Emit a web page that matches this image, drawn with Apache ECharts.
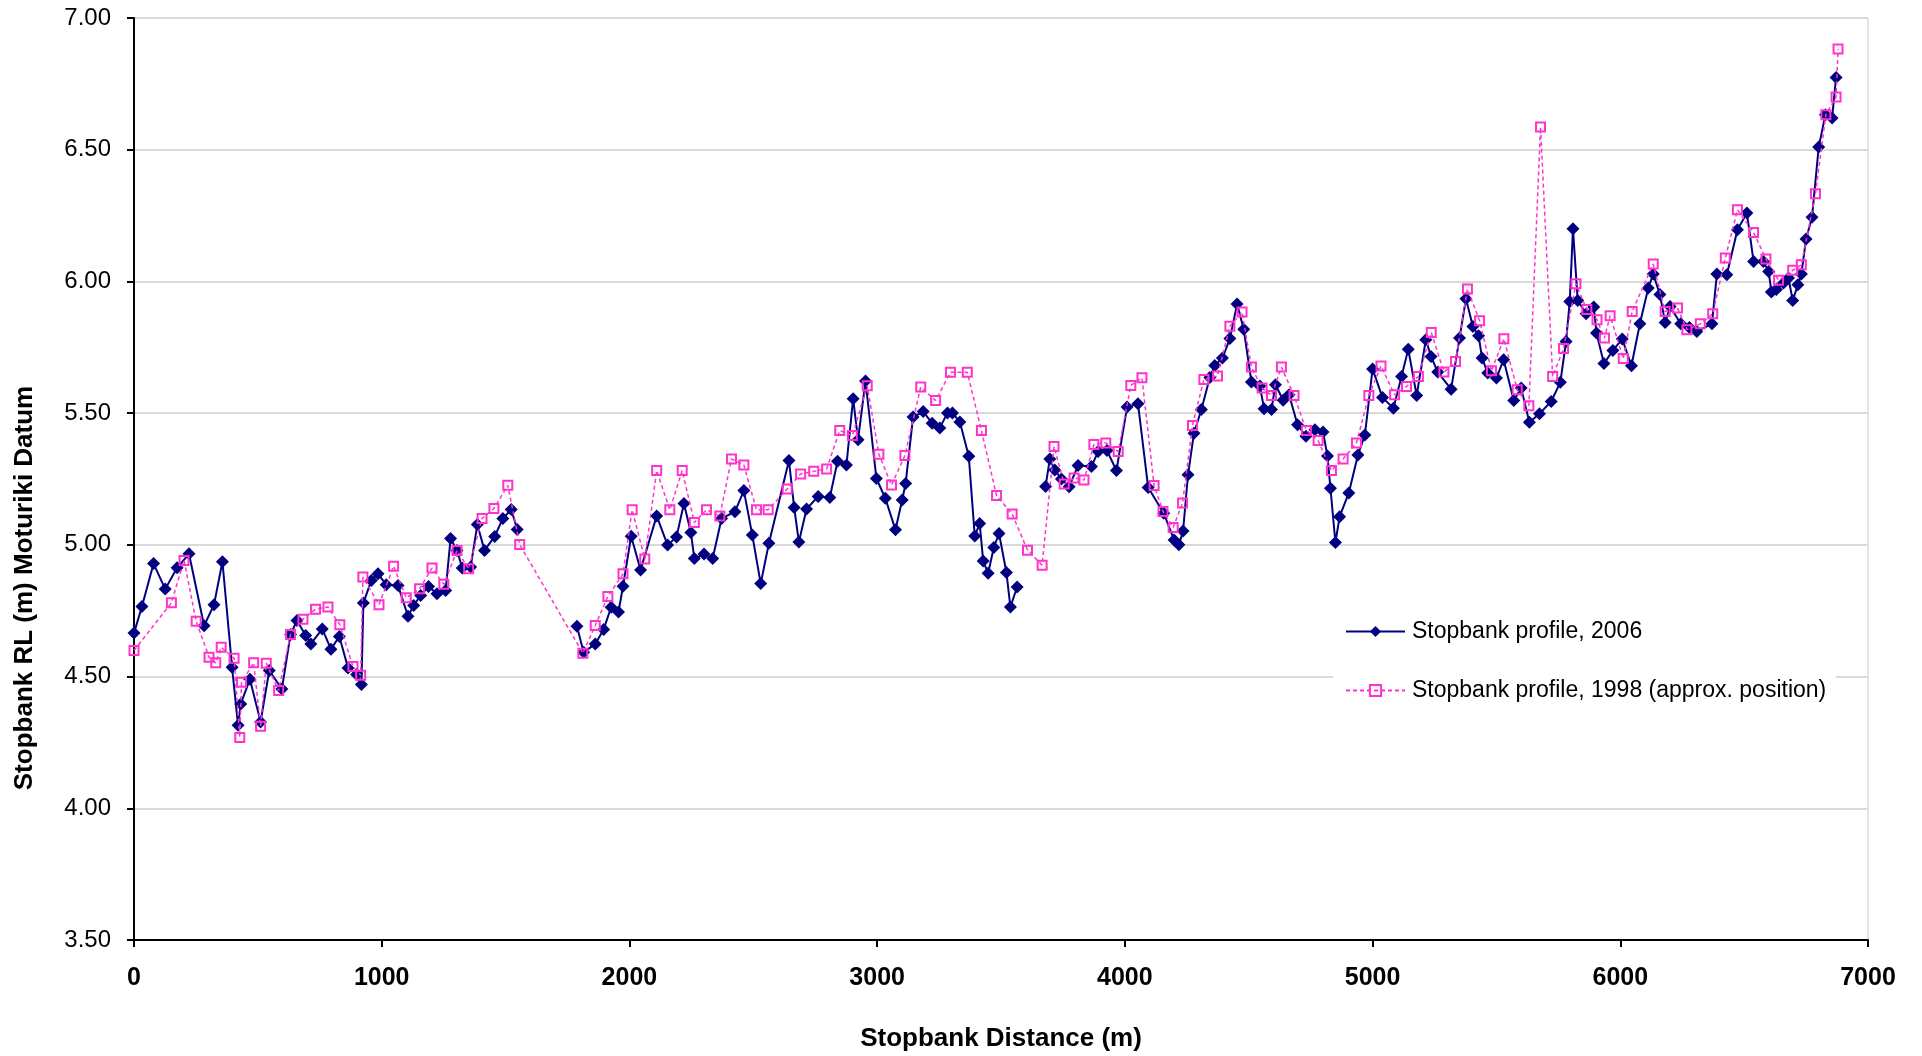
<!DOCTYPE html>
<html>
<head>
<meta charset="utf-8">
<title>Stopbank profile</title>
<script src="https://cdn.jsdelivr.net/npm/echarts@6/dist/echarts.min.js"></script>
<style>
  html, body { margin: 0; padding: 0; background: #ffffff; }
  #chart { width: 1922px; height: 1056px; }
</style>
</head>
<body>
<div id="chart"></div>
<script>
// Surveyed crest levels along the stopbank (distance in m, RL in m Moturiki Datum).
// null marks a stretch with no survey, so the line breaks there.
const distance2006 = [
  0, 32, 79, 126, 174, 222, 283, 323, 357, 396, 420, 431, 468, 511, 546, 597, 632, 658, 693, 714,
  760, 795, 829, 864, 899, 918, 926, 958, 985, 1018, 1066, 1106, 1129, 1157, 1189, 1223, 1258, 1278, 1304, 1325,
  1359, 1386, 1415, 1456, 1489, 1523, 1547, 1660, 1788, 1815, 1862, 1896, 1926, 1956, 1974, 2007, 2045, 2110, 2154, 2190,
  2220, 2248, 2262, 2301, 2336, 2372, 2426, 2462, 2496, 2530, 2563, 2644, 2665, 2684, 2715, 2762, 2809, 2840, 2876, 2903,
  2923, 2953, 2997, 3033, 3074, 3101, 3115, 3145, 3186, 3222, 3253, 3284, 3304, 3334, 3370, 3394, 3414, 3428, 3448, 3471,
  3492, 3522, 3538, 3565, 3620, 3680, 3697, 3717, 3744, 3775, 3811, 3865, 3892, 3928, 3966, 4009, 4053, 4094, 4157, 4199,
  4218, 4235, 4255, 4279, 4309, 4343, 4363, 4394, 4424, 4453, 4480, 4511, 4545, 4562, 4592, 4608, 4639, 4663, 4697, 4731,
  4767, 4800, 4818, 4830, 4850, 4867, 4904, 4941, 4969, 5000, 5040, 5084, 5117, 5144, 5178, 5215, 5236, 5263, 5317, 5351,
  5377, 5405, 5428, 5442, 5465, 5500, 5529, 5570, 5600, 5633, 5674, 5721, 5758, 5781, 5796, 5809, 5828, 5862, 5893, 5904,
  5934, 5970, 6008, 6045, 6079, 6113, 6133, 6160, 6181, 6201, 6244, 6279, 6309, 6370, 6390, 6430, 6473, 6511, 6538, 6578,
  6599, 6610, 6630, 6659, 6679, 6696, 6717, 6731, 6750, 6774, 6801, 6828, 6855, 6871
];
const level2006 = [
  4.665, 4.766, 4.929, 4.832, 4.913, 4.966, 4.693, 4.773, 4.936, 4.535, 4.315, 4.396, 4.49, 4.328, 4.523, 4.453, 4.66, 4.713, 4.656, 4.624,
  4.681, 4.604, 4.652, 4.533, 4.508, 4.47, 4.779, 4.865, 4.89, 4.849, 4.846, 4.729, 4.77, 4.808, 4.842, 4.814, 4.827, 5.024, 4.979, 4.912,
  4.916, 5.077, 4.979, 5.032, 5.1, 5.134, 5.058, null, 4.691, 4.592, 4.624, 4.679, 4.763, 4.745, 4.843, 5.033, 4.905, 5.11, 4.999, 5.03,
  5.157, 5.047, 4.948, 4.965, 4.948, 5.1, 5.126, 5.206, 5.037, 4.853, 5.006, 5.32, 5.142, 5.011, 5.136, 5.184, 5.18, 5.317, 5.303, 5.555,
  5.399, 5.622, 5.252, 5.177, 5.057, 5.17, 5.233, 5.485, 5.506, 5.462, 5.444, 5.501, 5.501, 5.466, 5.336, 5.034, 5.081, 4.939, 4.892, 4.99,
  5.043, 4.895, 4.764, 4.84, null, 5.222, 5.326, 5.284, 5.25, 5.221, 5.301, 5.297, 5.354, 5.358, 5.282, 5.523, 5.536, 5.218, 5.12, 5.018,
  5.0, 5.053, 5.266, 5.424, 5.514, 5.635, 5.681, 5.709, 5.783, 5.914, 5.818, 5.618, 5.603, 5.517, 5.514, 5.608, 5.549, 5.57, 5.456, 5.412,
  5.437, 5.428, 5.337, 5.215, 5.009, 5.107, 5.197, 5.341, 5.417, 5.668, 5.559, 5.519, 5.639, 5.743, 5.567, 5.779, 5.715, 5.656, 5.591, 5.785,
  5.934, 5.829, 5.794, 5.709, 5.652, 5.633, 5.703, 5.548, 5.595, 5.465, 5.498, 5.544, 5.617, 5.772, 5.924, 6.2, 5.928, 5.877, 5.903, 5.804,
  5.688, 5.738, 5.781, 5.68, 5.839, 5.975, 6.028, 5.95, 5.844, 5.905, 5.839, 5.825, 5.81, 5.839, 6.028, 6.025, 6.196, 6.26, 6.076, 6.076,
  6.038, 5.96, 5.969, 5.994, 6.013, 5.928, 5.987, 6.028, 6.161, 6.244, 6.51, 6.633, 6.62, 6.774
];

const distance1998 = [
  0, 151, 202, 251, 303, 330, 352, 404, 427, 434, 483, 511, 534, 584, 632, 682, 733, 783, 831, 884,
  915, 924, 989, 1048, 1099, 1153, 1203, 1251, 1304, 1351, 1405, 1453, 1509, 1557, 1812, 1862, 1913, 1974, 2011, 2062,
  2110, 2163, 2213, 2262, 2311, 2365, 2412, 2462, 2513, 2560, 2637, 2691, 2744, 2796, 2849, 2900, 2960, 3007, 3058, 3112,
  3176, 3236, 3296, 3364, 3421, 3482, 3545, 3607, 3666, 3714, 3755, 3795, 3835, 3875, 3923, 3973, 4024, 4069, 4118, 4154,
  4195, 4233, 4273, 4319, 4374, 4424, 4473, 4511, 4554, 4592, 4632, 4683, 4733, 4780, 4834, 4881, 4935, 4985, 5034, 5089,
  5137, 5185, 5237, 5288, 5335, 5383, 5432, 5480, 5530, 5584, 5631, 5678, 5727, 5771, 5821, 5865, 5906, 5936, 5959, 6012,
  6048, 6133, 6181, 6231, 6269, 6323, 6373, 6424, 6473, 6538, 6588, 6639, 6696, 6731, 6788, 6830, 6871, 6879
];
const level1998 = [
  4.599, 4.78, 4.941, 4.71, 4.573, 4.552, 4.611, 4.57, 4.269, 4.478, 4.552, 4.311, 4.551, 4.447, 4.66, 4.718, 4.756, 4.764, 4.697, 4.538,
  4.505, 4.878, 4.773, 4.919, 4.799, 4.833, 4.912, 4.85, 4.979, 4.909, 5.1, 5.138, 5.226, 5.001, 4.589, 4.694, 4.804, 4.89, 5.133, 4.946,
  5.282, 5.133, 5.282, 5.085, 5.133, 5.11, 5.326, 5.303, 5.133, 5.133, 5.212, 5.269, 5.279, 5.288, 5.434, 5.415, 5.604, 5.344, 5.227, 5.339,
  5.599, 5.548, 5.655, 5.655, 5.434, 5.187, 5.117, 4.98, 4.923, 5.373, 5.231, 5.254, 5.246, 5.381, 5.387, 5.354, 5.605, 5.634, 5.225, 5.127,
  5.066, 5.159, 5.453, 5.628, 5.641, 5.83, 5.884, 5.675, 5.595, 5.567, 5.675, 5.567, 5.434, 5.396, 5.282, 5.326, 5.387, 5.567, 5.679, 5.57,
  5.601, 5.639, 5.806, 5.656, 5.696, 5.971, 5.851, 5.661, 5.782, 5.589, 5.528, 6.586, 5.639, 5.745, 5.991, 5.893, 5.855, 5.785, 5.87, 5.707,
  5.886, 6.066, 5.886, 5.899, 5.817, 5.839, 5.877, 6.089, 6.272, 6.186, 6.085, 6.004, 6.042, 6.063, 6.333, 6.633, 6.7, 6.882
];

// Axis ranges and labels
const distanceRange = { min: 0, max: 7000, step: 1000 };
const levelRange = { min: 3.5, max: 7.0, step: 0.5 };
const seriesNames = ['Stopbank profile, 2006', 'Stopbank profile, 1998 (approx. position)'];
const yTitle = 'Stopbank RL (m) Moturiki Datum';
const xTitle = 'Stopbank Distance (m)';

const FONT = "'Liberation Sans', Arial, Helvetica, sans-serif";

function pairs(xs, ys) {
  return xs.map((x, i) => [x, ys[i] === null ? '-' : ys[i]]);
}

const chart = echarts.init(document.getElementById('chart'), null, { renderer: 'canvas' });

chart.setOption({
  animation: false,
  backgroundColor: '#ffffff',
  grid: {
    left: 134, right: 54, top: 18, bottom: 116,
    show: true,
    borderColor: '#c8c8c8',
    borderWidth: 1,
    backgroundColor: 'transparent'
  },
  xAxis: {
    type: 'value',
    min: distanceRange.min,
    max: distanceRange.max,
    interval: distanceRange.step,
    axisLine: { show: true, onZero: false, lineStyle: { color: '#000000', width: 2 } },
    axisTick: { show: true, inside: false, length: 7, lineStyle: { color: '#000000', width: 2 } },
    splitLine: { show: false },
    axisLabel: {
      margin: 26,
      color: '#000000',
      fontFamily: FONT,
      fontSize: 25,
      fontWeight: 'bold',
      formatter: v => String(v)
    }
  },
  yAxis: {
    type: 'value',
    min: levelRange.min,
    max: levelRange.max,
    interval: levelRange.step,
    axisLine: { show: true, onZero: false, lineStyle: { color: '#000000', width: 2 } },
    axisTick: { show: true, inside: false, length: 7, lineStyle: { color: '#000000', width: 2 } },
    splitLine: { show: true, lineStyle: { color: '#d9d9d9', width: 2 } },
    axisLabel: {
      margin: 23,
      color: '#000000',
      fontFamily: FONT,
      fontSize: 24,
      formatter: v => v.toFixed(2)
    }
  },
  legend: {
    orient: 'vertical',
    left: 1333,
    top: 610,
    padding: [10, 10, 10, 12],
    backgroundColor: '#ffffff',
    itemWidth: 59,
    itemHeight: 14,
    itemGap: 36,
    data: seriesNames,
    textStyle: {
      color: '#000000',
      fontFamily: FONT,
      fontSize: 23,
      lineHeight: 23,
      padding: [0, 0, 0, 2]
    }
  },
  series: [
    {
      name: seriesNames[0],
      type: 'line',
      data: pairs(distance2006, level2006),
      connectNulls: false,
      symbol: 'diamond',
      symbolSize: 13,
      showAllSymbol: true,
      lineStyle: { color: '#000080', width: 2 },
      itemStyle: { color: '#000080' },
      z: 3
    },
    {
      name: seriesNames[1],
      type: 'line',
      data: pairs(distance1998, level1998),
      symbol: 'rect',
      symbolSize: 9,
      showAllSymbol: true,
      lineStyle: { color: '#ff33cc', width: 1.5, type: [4, 3] },
      itemStyle: { color: 'rgba(255,255,255,0)', borderColor: '#ff33cc', borderWidth: 2 },
      z: 4
    }
  ],
  graphic: [
    {
      type: 'text',
      x: 25,
      y: 588,
      rotation: Math.PI / 2,
      style: {
        text: yTitle,
        fill: '#000000',
        font: 'bold 26px ' + FONT,
        align: 'center',
        verticalAlign: 'middle',
        textAlign: 'center',
        textVerticalAlign: 'middle'
      }
    },
    {
      type: 'text',
      x: 1001,
      y: 1039,
      style: {
        text: xTitle,
        fill: '#000000',
        font: 'bold 26px ' + FONT,
        align: 'center',
        verticalAlign: 'middle',
        textAlign: 'center',
        textVerticalAlign: 'middle'
      }
    }
  ]
});
</script>
</body>
</html>
